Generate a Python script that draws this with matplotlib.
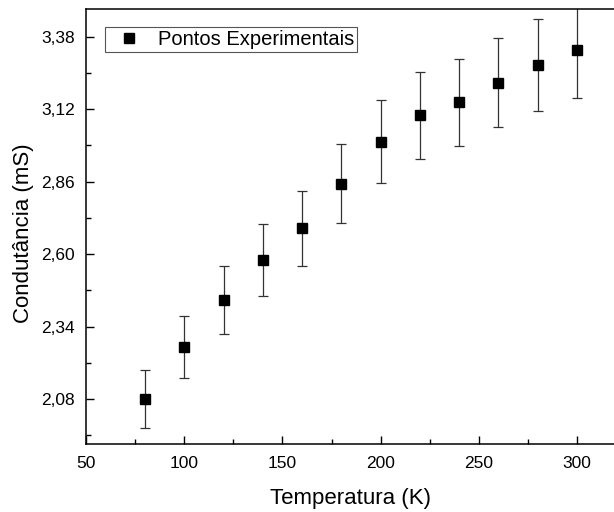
import matplotlib
matplotlib.use("Agg")
import matplotlib.pyplot as plt
from matplotlib.ticker import MultipleLocator, FixedLocator, FuncFormatter

plt.rcParams['font.family'] = ['Liberation Sans', 'DejaVu Sans']

# Measured conductance versus temperature
temperatura = [80, 100, 120, 140, 160, 180, 200, 220, 240, 260, 280, 300]
condutancia = [2.080, 2.266, 2.435, 2.580, 2.693, 2.852, 3.004, 3.099, 3.145, 3.216, 3.279, 3.333]
erro = [0.105, 0.112, 0.122, 0.129, 0.134, 0.142, 0.150, 0.156, 0.156, 0.161, 0.166, 0.171]

y_ticks = [2.08, 2.34, 2.60, 2.86, 3.12, 3.38]
x_ticks = [50, 100, 150, 200, 250, 300]

fig = plt.figure(figsize=(6.14, 5.12), dpi=100)
ax = fig.add_axes([86 / 614, 68.5 / 512, 1 - 86 / 614, 434.5 / 512])

ax.errorbar(temperatura, condutancia, yerr=erro, fmt='none', ecolor='#333333',
            elinewidth=0.9, capsize=3.4, capthick=0.9, zorder=2)
ax.plot(temperatura, condutancia, 's', color='black', markersize=7,
        label='Pontos Experimentais', zorder=3)

ax.set_xlim(50, 318.8)
ax.set_ylim(1.92, 3.48)

ax.xaxis.set_major_locator(FixedLocator(x_ticks))
ax.xaxis.set_minor_locator(MultipleLocator(25))
ax.yaxis.set_major_locator(FixedLocator(y_ticks))
ax.yaxis.set_minor_locator(FixedLocator([1.95, 2.21, 2.47, 2.73, 2.99, 3.25]))
ax.yaxis.set_major_formatter(FuncFormatter(lambda v, p: f"{v:.2f}".replace('.', ',')))

ax.tick_params(which='major', direction='in', length=6, width=1, labelsize=12.5)
ax.tick_params(which='minor', direction='in', length=3.5, width=1)
ax.tick_params(axis='x', which='major', pad=9)
ax.tick_params(axis='y', which='major', pad=8)
ax.tick_params(top=False, right=False)

for s in ('left', 'bottom', 'top'):
    ax.spines[s].set_linewidth(1.1)
ax.spines['right'].set_visible(False)

ax.set_xlabel('Temperatura (K)', fontsize=16)
ax.set_ylabel('Condutância (mS)', fontsize=16)
ax.xaxis.set_label_coords(0.5, -0.1024)
ax.yaxis.set_label_coords(-0.0985, 0.4845)

leg = ax.legend(loc='upper left', bbox_to_anchor=(0.036, 0.9586), borderaxespad=0,
                fontsize=14.5, fancybox=False, edgecolor='#555555', framealpha=1,
                handlelength=2.1, handletextpad=0.38, borderpad=0.15, numpoints=1)
leg.get_frame().set_linewidth(0.8)

fig.savefig('out.png', dpi=100)
